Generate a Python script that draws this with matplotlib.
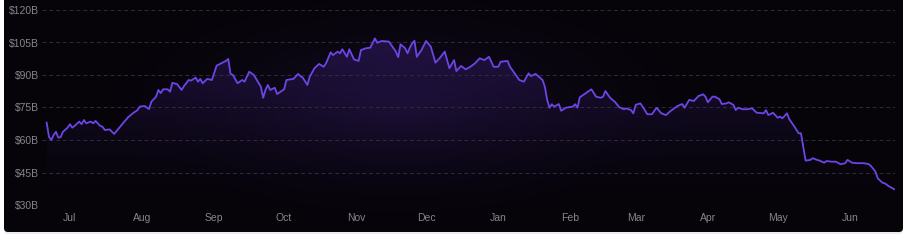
import matplotlib.pyplot as plt
import matplotlib.dates as mdates
from matplotlib.patches import FancyBboxPatch, Polygon
import numpy as np
import pandas as pd

plt.rcParams['font.family'] = ['Liberation Sans', 'DejaVu Sans']

START = "2022-07-01"

# days counted from START, values in $B
days = [-10, -9, -8, -7, -6, -5, -4, -3, -1, 0, 1, 2, 4, 5, 6, 7, 9, 10, 11, 13,
        14, 15, 17, 19, 21, 23, 25, 27, 29, 30, 32, 34, 35, 37, 38, 39, 40, 42, 43, 44,
        46, 48, 49, 51, 52, 54, 55, 56, 57, 59, 61, 63, 65, 67, 68, 69, 70, 72, 74, 75,
        77, 79, 80, 82, 83, 84, 85, 86, 88, 89, 92, 93, 96, 98, 99, 100, 102, 103, 105, 107,
        109, 110, 112, 113, 115, 116, 117, 119, 120, 122, 124, 125, 127, 129, 131, 132, 134, 137, 140, 141,
        142, 144, 145, 146, 147, 148, 149, 151, 153, 155, 157, 159, 161, 163, 165, 166, 168, 170, 172, 174,
        176, 178, 180, 182, 184, 185, 188, 189, 191, 193, 195, 197, 198, 200, 203, 204, 205, 206, 207, 208,
        210, 211, 213, 216, 217, 218, 219, 221, 224, 226, 228, 229, 230, 232, 234, 236, 238, 239, 241, 242,
        243, 245, 246, 248, 250, 252, 254, 256, 258, 261, 263, 264, 266, 268, 270, 272, 273, 274, 276, 277,
        279, 280, 282, 283, 285, 286, 287, 289, 291, 293, 295, 298, 299, 300, 302, 304, 305, 306, 308, 309,
        311, 313, 314, 315, 316, 318, 319, 321, 322, 324, 325, 327, 329, 331, 333, 334, 336, 338, 341, 343,
        344, 346, 347, 349, 350, 352, 354]
values = [68.0, 61.5, 60.0, 62.3, 63.8, 61.1, 61.3, 63.8, 65.7, 67.3, 65.7, 66.5, 68.5, 67.3, 69.2, 67.7, 68.5, 67.7, 68.8, 66.5,
          66.1, 64.6, 64.9, 62.8, 65.4, 68.0, 70.5, 72.3, 73.8, 75.4, 75.7, 74.3, 77.7, 80.0, 83.1, 81.6, 83.4, 83.4, 82.3, 86.4,
          85.8, 83.1, 84.9, 87.7, 87.4, 88.8, 86.9, 88.2, 86.2, 88.2, 87.7, 94.3, 95.4, 96.5, 97.4, 90.5, 90.0, 86.2, 87.7, 86.9,
          91.5, 90.0, 88.2, 84.6, 79.5, 83.1, 85.4, 83.1, 84.1, 81.2, 83.4, 87.7, 88.2, 90.5, 89.5, 88.8, 85.4, 89.2, 93.1, 95.1,
          93.8, 95.4, 100.5, 99.2, 100.8, 100.0, 101.9, 98.4, 101.9, 97.2, 96.5, 101.5, 102.3, 102.6, 106.9, 104.9, 105.7, 105.4, 100.8, 98.2,
          104.2, 102.3, 100.0, 102.6, 104.6, 105.8, 98.4, 101.5, 105.7, 103.1, 95.7, 98.0, 100.8, 93.1, 96.9, 91.8, 94.2, 92.6, 93.8, 95.4,
          97.7, 96.9, 98.4, 93.8, 93.8, 96.1, 96.5, 93.8, 90.8, 87.7, 86.9, 90.8, 89.5, 90.5, 87.7, 84.6, 78.5, 74.9, 76.5, 75.4,
          76.6, 73.5, 74.9, 75.4, 76.5, 74.9, 79.7, 81.2, 83.4, 80.0, 79.5, 80.0, 82.6, 79.5, 77.7, 75.1, 74.2, 74.6, 73.8, 72.3,
          76.2, 76.9, 75.4, 71.9, 71.9, 74.9, 72.3, 71.5, 73.4, 75.7, 76.6, 74.9, 78.5, 78.0, 80.3, 81.1, 80.0, 77.4, 80.0, 80.0,
          78.8, 76.6, 76.9, 77.4, 76.2, 73.8, 74.9, 74.2, 74.2, 74.6, 72.6, 72.3, 73.8, 71.5, 72.6, 70.3, 70.8, 70.0, 72.3, 69.6,
          66.5, 63.1, 63.1, 56.9, 50.5, 50.8, 51.6, 50.8, 50.5, 49.5, 50.3, 50.0, 50.0, 48.8, 49.3, 50.8, 49.5, 49.3, 49.3, 48.9,
          48.1, 45.4, 42.3, 40.3, 40.0, 38.5, 37.3]

y_ticks = [30, 45, 60, 75, 90, 105, 120]
y_labels = ["$30B", "$45B", "$60B", "$75B", "$90B", "$105B", "$120B"]

W, H = 908, 241
dates = pd.Timestamp(START) + pd.to_timedelta(days, unit="D")

fig = plt.figure(figsize=(W / 100, H / 100), dpi=100)
fig.patch.set_facecolor("white")

# dark panel with a soft purple glow
bg = fig.add_axes([0, 0, 1, 1])
bg.set_xlim(0, W)
bg.set_ylim(H, 0)
bg.axis("off")
shadow = FancyBboxPatch((4, -10), 899, 244, boxstyle="round,pad=0,rounding_size=4",
                        facecolor="#ececef", edgecolor="none", zorder=0)
bg.add_patch(shadow)
panel = FancyBboxPatch((4, -10), 899, 242, boxstyle="round,pad=0,rounding_size=4",
                       facecolor="#060409", edgecolor="none", zorder=1)
bg.add_patch(panel)
gx, gy = np.meshgrid(np.linspace(0, W, 400), np.linspace(0, H, 120))
r = np.sqrt(((gx - 400) / 340) ** 2 + ((gy - 105) / 140) ** 2)
glow = np.clip(1 - r, 0, 1) ** 1.8
rgba = np.zeros(gy.shape + (4,))
rgba[..., 0] = 0.20
rgba[..., 1] = 0.11
rgba[..., 2] = 0.38
rgba[..., 3] = glow * 0.32
im = bg.imshow(rgba, extent=[0, W, H, 0], zorder=2, aspect="auto")
im.set_clip_path(panel)

ax = fig.add_axes([42 / W, (H - 205) / H, (895 - 42) / W, 195 / H])
ax.set_facecolor("none")
start = pd.Timestamp(START)
ax.set_xlim(start - pd.Timedelta(days=12.0), start + pd.Timedelta(days=354.4))

# gradient fill under the line
xn = mdates.date2num(dates)
verts = list(zip(xn, values)) + [(xn[-1], 30), (xn[0], 30)]
clip = Polygon(verts, closed=True, facecolor="none", edgecolor="none", transform=ax.transData)
ax.add_patch(clip)
grad = np.linspace(1, 0, 200).reshape(-1, 1) ** 1.5
fill = np.zeros((200, 1, 4))
fill[..., 0] = 0.28
fill[..., 1] = 0.15
fill[..., 2] = 0.58
fill[..., 3] = grad * 0.38
fim = ax.imshow(fill, extent=[xn[0], xn[-1], 30, 108], aspect="auto", zorder=1, origin="upper")
fim.set_clip_path(clip)
ax.set_xlim(start - pd.Timedelta(days=12.0), start + pd.Timedelta(days=354.4))
ax.set_ylim(30, 120)

ax.plot(dates, values, color="#6d45e6", lw=1.3, zorder=3)

ax.set_yticks(y_ticks)
ax.set_yticklabels(y_labels)
ax.grid(axis="y", color="#302c3a", lw=0.7, ls=(0, (4, 3)))
ax.xaxis.set_major_locator(mdates.MonthLocator())
ax.xaxis.set_major_formatter(mdates.DateFormatter("%b"))
ax.tick_params(axis="both", length=0, colors="#86848c", labelsize=7.5)
ax.tick_params(axis="y", pad=2)
ax.tick_params(axis="x", pad=6)
for s in ax.spines.values():
    s.set_visible(False)

fig.savefig("out.png", dpi=100, facecolor=fig.get_facecolor())
